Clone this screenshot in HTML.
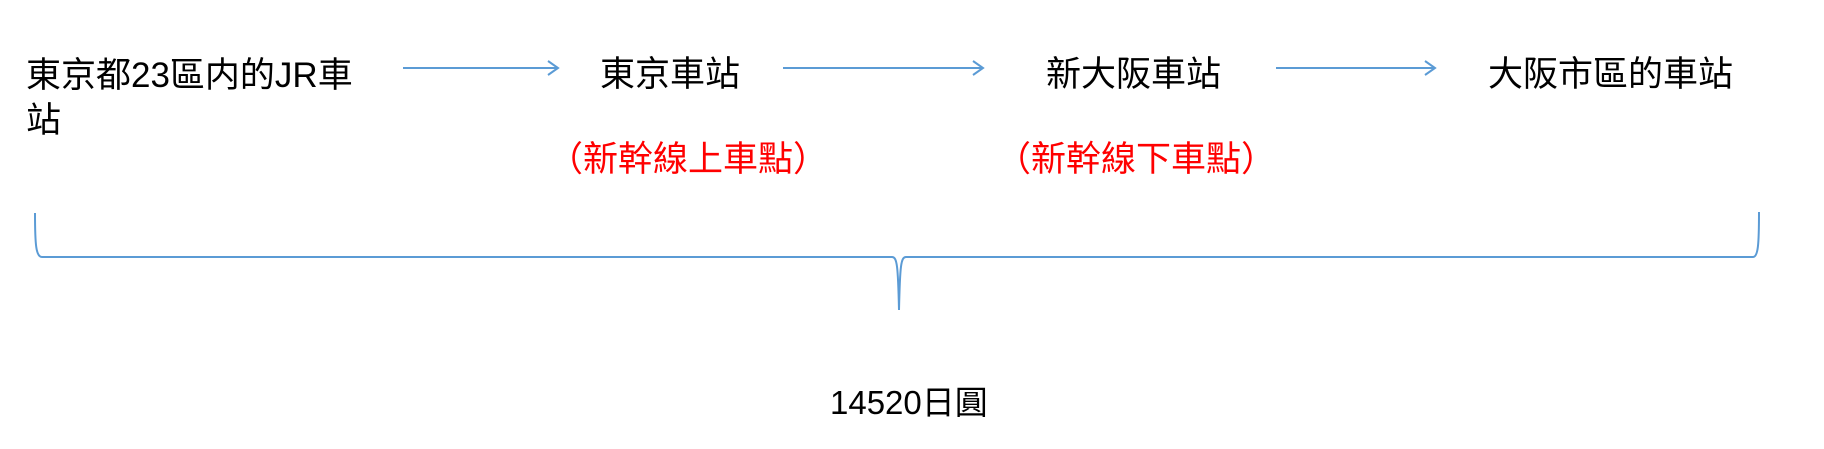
<!DOCTYPE html>
<html><head><meta charset="utf-8"><style>
html,body{margin:0;padding:0;background:#fff;}
body{width:1824px;height:449px;position:relative;overflow:hidden;font-family:"Liberation Sans","Noto Sans CJK TC","Noto Sans CJK SC",sans-serif;}
.t{position:absolute;white-space:nowrap;color:#000;}
.r{color:#ff0000;}
</style></head><body>
<div class="t" style="left:26px;top:53px;font-size:35px;line-height:45px;">東京都23區内的JR車<br>站</div>
<div class="t" style="left:600px;top:56px;font-size:35px;line-height:38px;">東京車站</div>
<div class="t" style="left:1046px;top:56px;font-size:35px;line-height:38px;">新大阪車站</div>
<div class="t" style="left:1488px;top:56px;font-size:35px;line-height:38px;">大阪市區的車站</div>
<div class="t r" style="left:548px;top:141px;font-size:35px;line-height:38px;">（新幹線上車點）</div>
<div class="t r" style="left:996px;top:141px;font-size:35px;line-height:38px;">（新幹線下車點）</div>
<div class="t" style="left:830px;top:385px;font-size:33px;line-height:36px;">14520日圓</div>
<svg width="1824" height="449" style="position:absolute;left:0;top:0" fill="none" stroke="#5b9bd5" stroke-width="2">
<path d="M403 68 H558 M548 61 L558 68 L548 75"/>
<path d="M783 68 H983 M973 61 L983 68 L973 75"/>
<path d="M1276 68 H1435 M1425 61 L1435 68 L1425 75"/>
<path d="M35 213 C35 245 36 257 42 257 H892 C897 257 898 265 899 310 C900 265 901 257 906 257 H1753 C1758 257 1759 245 1759 212"/>
</svg>
</body></html>
